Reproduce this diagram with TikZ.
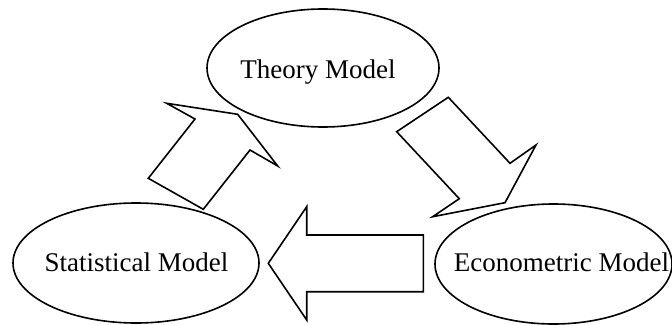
\documentclass[tikz,border=0pt]{standalone}
\usepackage{fontspec}
\setmainfont{Liberation Serif}
\usetikzlibrary{shapes.geometric}
\begin{document}
\begin{tikzpicture}[x=1pt,y=-1pt,
  oval/.style={draw=black,line width=1.6pt,ellipse,inner sep=0pt},
  label/.style={anchor=base,inner sep=0pt,font=\fontsize{27}{32}\selectfont},
  blockarrow/.style={draw=black,line width=1.6pt,line join=miter,fill=white}]
\useasboundingbox (0,0) rectangle (672,324);
% ellipses
\node[oval,minimum width=232pt,minimum height=118pt] (theory) at (323,68) {};
\node[oval,minimum width=246pt,minimum height=120pt] (stat) at (136,263) {};
\node[oval,minimum width=237pt,minimum height=120pt] (econ) at (553.5,264) {};
% labels
\node[label] (theoryt) at (318,78) {Theory Model};
\node[label] (statt) at (136.5,271) {Statistical Model};
\node[label] (econt) at (561.5,271) {Econometric Model};
% up-right arrow (Statistical -> Theory)
\draw[blockarrow] (166.7,103.3) -- (237.7,114.3) -- (277.7,166) -- (250,150)
  -- (203.3,209.3) -- (148.3,178.3) -- (195,119) -- cycle;
% down-right arrow (Theory -> Econometric)
\draw[blockarrow] (396.7,131.7) -- (448.3,97.3) -- (510,163.3) -- (536,145)
  -- (505,202.7) -- (432.7,216.7) -- (459.3,198.7) -- cycle;
% left arrow (Econometric -> Statistical)
\draw[blockarrow] (268.3,263.3) -- (306.7,206.7) -- (306.7,235) -- (423.3,235)
  -- (423.3,291.7) -- (306.7,291.7) -- (306.7,320) -- cycle;
\end{tikzpicture}
\end{document}
